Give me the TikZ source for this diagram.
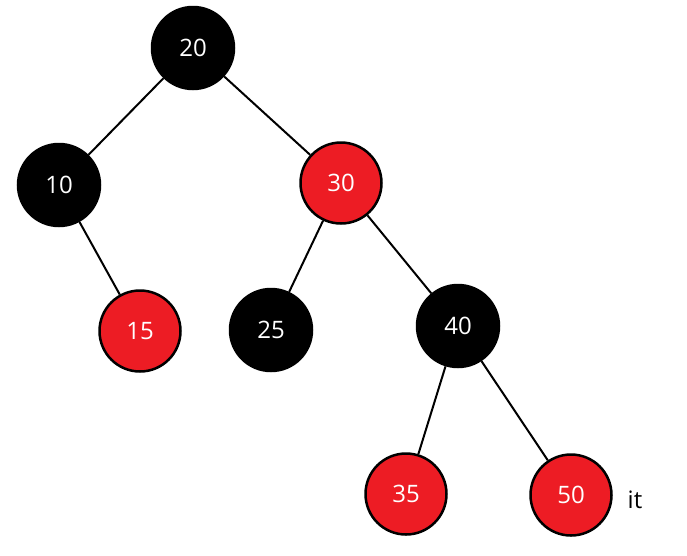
\documentclass[tikz,border=0pt]{standalone}
\usepackage{fontspec}
\setmainfont{Open Sans}
\usetikzlibrary{positioning}
\definecolor{rbred}{RGB}{237,28,36}

\begin{document}
\begin{tikzpicture}[
        x=1pt, y=-1pt,
        blacknode/.style={circle, draw=black, line width=2.5pt, fill=black, text=white, minimum size=82pt, inner sep=0pt, font=\fontsize{24}{26}\selectfont},
        rednode/.style={circle, draw=black, line width=2.5pt, fill=rbred, text=white, minimum size=81pt, inner sep=0pt, font=\fontsize{24}{26}\selectfont},
        edge/.style={line width=2pt, draw=black}
    ]
        \useasboundingbox (0,0) rectangle (687,555);
        \node[blacknode] (n20) at (193,48) {20};
        \node[blacknode] (n10) at (59,185) {10};
        \node[rednode] (n30) at (341,183) {30};
        \node[rednode] (n15) at (140,331) {15};
        \node[blacknode] (n25) at (271,330) {25};
        \node[blacknode] (n40) at (458,326) {40};
        \node[rednode] (n35) at (406,494) {35};
        \node[rednode] (n50) at (571,495) {50};
        \node[font=\fontsize{24}{26}\selectfont] (lbl) at (635,500) {it};
        \draw[edge] (n20) -- (n10);
        \draw[edge] (n20) -- (n30);
        \draw[edge] (n10) -- (n15);
        \draw[edge] (n30) -- (n25);
        \draw[edge] (n30) -- (n40);
        \draw[edge] (n40) -- (n35);
        \draw[edge] (n40) -- (n50);
    \end{tikzpicture}
\end{document}
